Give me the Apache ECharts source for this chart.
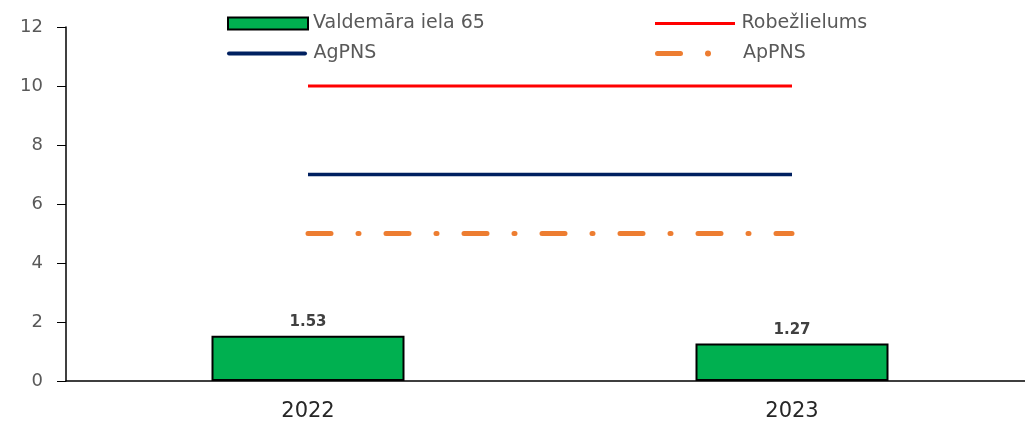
<!DOCTYPE html>
<html><head><meta charset="utf-8">
<script src="https://cdn.jsdelivr.net/npm/echarts@6/dist/echarts.min.js"></script>
<style>html,body{margin:0;padding:0;background:#fff}#c{width:1025px;height:421px}</style>
</head><body><div id="c"></div>
<script>
const categories = ['2022', '2023'];
const valdemara = [1.53, 1.27];
const robezlielums = [10, 10];
const agpns = [7, 7];
const appns = [5, 5];
const yTicks = [0, 2, 4, 6, 8, 10, 12];

const chart = echarts.init(document.getElementById('c'));
const legendText = {fontFamily: 'DejaVu Sans', fontSize: 19, color: '#595959'};
const option = {
  animation: false,
  legend: [
    {left: 227, top: 14, padding: 0, itemWidth: 80, itemHeight: 12, itemGap: 6, textStyle: legendText,
      data: [{name: 'Valdemāra iela 65', icon: 'rect'}], itemStyle: {borderColor: '#000', borderWidth: 2}},
    {left: 655, top: 14, padding: 0, itemWidth: 83, itemHeight: 3, textStyle: legendText,
      data: [{name: 'Robežlielums', icon: 'path://M0,0H80V3H0Z'}]},
    {left: 227, top: 44, padding: 0, itemWidth: 83, itemHeight: 4, textStyle: legendText,
      data: [{name: 'AgPNS', icon: 'path://M2,0H78A2,2,0,0,1,78,4H2A2,2,0,0,1,2,0Z'}]},
    {left: 655, top: 44, padding: 0, itemWidth: 56, itemHeight: 6, textStyle: Object.assign({padding: [0, 0, 0, 27]}, legendText),
      data: [{name: 'ApPNS', icon: 'path://M2.5,0.5H25.5A2.5,2.5,0,0,1,25.5,5.5H2.5A2.5,2.5,0,0,1,2.5,0.5Z M53,0A3,3,0,0,1,53,6A3,3,0,0,1,53,0Z'}]}
  ],
  grid: {left: 66, width: 968, top: 27, bottom: 40, outerBoundsMode: 'none', containLabel: false},
  xAxis: {
    type: 'category', data: categories,
    axisLine: {lineStyle: {color: '#000', width: 1.5}},
    axisTick: {show: false},
    axisLabel: {fontFamily: 'DejaVu Sans', fontSize: 21, color: '#262626', margin: 20}
  },
  yAxis: {
    type: 'value', min: 0, max: 12, interval: 2,
    axisLine: {show: true, lineStyle: {color: '#000', width: 1.5}},
    axisTick: {show: true, length: 9, lineStyle: {color: '#000'}},
    splitLine: {show: false},
    axisLabel: {fontFamily: 'DejaVu Sans', fontSize: 18, color: '#595959', margin: 23,
      formatter: v => yTicks.includes(v) ? String(v) : ''}
  },
  series: [
    {name: 'Valdemāra iela 65', type: 'bar', data: valdemara, barWidth: 193,
      itemStyle: {color: '#00B050', borderColor: '#000', borderWidth: 2},
      label: {show: true, position: 'top', distance: 6, fontFamily: 'DejaVu Sans', fontWeight: 'bold', fontSize: 15, color: '#404040', formatter: p => p.value.toFixed(2)}},
    {name: 'Robežlielums', type: 'line', data: robezlielums, symbol: 'none',
      lineStyle: {color: '#FF0000', width: 3}, itemStyle: {color: '#FF0000'}},
    {name: 'AgPNS', type: 'line', data: agpns, symbol: 'none',
      lineStyle: {color: '#002060', width: 3.5}, itemStyle: {color: '#002060'}},
    {name: 'ApPNS', type: 'line', data: appns, symbol: 'none',
      lineStyle: {color: '#ED7D31', width: 5, type: [23, 27, 1, 27], cap: 'round'}, itemStyle: {color: '#ED7D31'}}
  ]
};
chart.setOption(option);
</script></body></html>
